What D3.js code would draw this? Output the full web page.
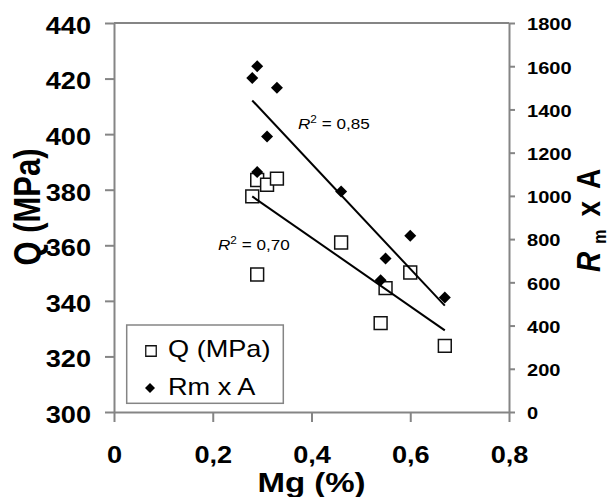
<!DOCTYPE html>
<html>
<head>
<meta charset="utf-8">
<script src="https://cdn.jsdelivr.net/npm/d3@7"></script>
<style>
  body { margin: 0; background: #fff; }
  svg { display: block; font-family: "Liberation Sans", Arial, sans-serif; }
</style>
</head>
<body>
<svg id="chart" width="609" height="497"></svg>
<script>
// values
const mg = [0.28, 0.29, 0.29, 0.31, 0.33, 0.46, 0.54, 0.55, 0.60, 0.67]
const qMPa = [377.6, 383.5, 349.5, 381.8, 384.0, 361.0, 332.0, 344.6, 350.2, 323.8]
const rmA = [1545, 1600, 1110, 1275, 1500, 1020, 610, 710, 815, 530]

const xTicks = [0, 0.2, 0.4, 0.6, 0.8]
const qTicks = [300, 320, 340, 360, 380, 400, 420, 440]
const rTicks = [0, 200, 400, 600, 800, 1000, 1200, 1400, 1600, 1800]
const r2Labels = ['0,85', '0,70']
const legendLabels = ['Q (MPa)', 'Rm x A']

// the original picture is stretched sideways, text gets the same stretch
const SX = 1.18
const axisColor = '#858585'

const svg = d3.select('#chart')

const x = d3.scaleLinear().domain([0, 0.8]).range([114, 509])
const yQ = d3.scaleLinear().domain([300, 440]).range([412, 23])
const yR = d3.scaleLinear().domain([0, 1800]).range([412, 23])

const comma = d => String(d).replace('.', ',')

/**
 * Least squares line through the points, returned as its two end points.
 */
function trend (xs, ys) {
  const mx = d3.mean(xs)
  const my = d3.mean(ys)
  const sxy = d3.sum(xs, (v, i) => (v - mx) * (ys[i] - my))
  const sxx = d3.sum(xs, v => (v - mx) * (v - mx))
  const slope = sxy / sxx
  return d3.extent(xs).map(v => [v, my + slope * (v - mx)])
}

function styleAxis (g, size) {
  g.attr('font-family', null).attr('font-size', null)
  g.select('.domain').attr('stroke', axisColor).attr('stroke-width', 2)
  g.selectAll('.tick line').attr('stroke', axisColor).attr('stroke-width', 2)
  g.selectAll('.tick text')
    .attr('fill', '#000')
    .attr('font-size', size)
    .attr('font-weight', 'bold')
}

// top border of the plot area
svg.append('line')
  .attr('x1', x(0)).attr('x2', x(0.8))
  .attr('y1', yQ(440)).attr('y2', yQ(440))
  .attr('stroke', axisColor).attr('stroke-width', 2)

const gx = svg.append('g')
  .attr('transform', 'translate(0,' + yQ(300) + ')')
  .call(d3.axisBottom(x).tickValues(xTicks).tickFormat(comma)
    .tickSize(10).tickSizeOuter(0).tickPadding(25))
styleAxis(gx, 23)
gx.selectAll('.tick text').attr('transform', 'scale(' + SX + ',1)')

const gl = svg.append('g')
  .attr('transform', 'translate(' + x(0) + ',0)')
  .call(d3.axisLeft(yQ).tickValues(qTicks).tickFormat(String)
    .tickSize(9).tickSizeOuter(0).tickPadding(10.5))
styleAxis(gl, 23)
gl.selectAll('.tick text').attr('dy', '0.45em').attr('transform', 'scale(' + SX + ',1)')

const gr = svg.append('g')
  .attr('transform', 'translate(' + x(0.8) + ',0)')
  .call(d3.axisRight(yR).tickValues(rTicks).tickFormat(String)
    .tickSize(6).tickSizeOuter(0).tickPadding(9.3))
styleAxis(gr, 17)
gr.selectAll('.tick text').attr('dy', '0.4em').attr('transform', 'scale(' + SX + ',1)')

// axis titles
svg.append('text')
  .attr('transform', 'translate(40,207) scale(' + SX + ',1) rotate(-90)')
  .attr('text-anchor', 'middle')
  .attr('font-size', 31).attr('font-weight', 'bold')
  .text('Q (MPa)')

svg.append('text')
  .attr('transform', 'translate(311.5,491.7) scale(' + SX + ',1)')
  .attr('text-anchor', 'middle')
  .attr('font-size', 28).attr('font-weight', 'bold')
  .text('Mg (%)')

const rt = svg.append('text')
  .attr('transform', 'translate(600,272) scale(' + SX + ',1) rotate(-90)')
  .attr('font-size', 28).attr('font-weight', 'bold')
rt.append('tspan').attr('font-style', 'italic').text('R')
rt.append('tspan').attr('dx', 8).attr('dy', 5).attr('font-size', 16).text('m')
rt.append('tspan').attr('dx', 13).attr('dy', -5).text('x')
rt.append('tspan').attr('dx', 12).text('A')

// series
svg.append('g').selectAll('path')
  .data(mg.map((m, i) => [m, qMPa[i]]))
  .enter()
  .append('path')
  .attr('d', d3.symbol(d3.symbolSquare, 165))
  .attr('transform', d => 'translate(' + x(d[0]) + ',' + yQ(d[1]) + ')')
  .attr('fill', '#fff')
  .attr('stroke', '#111')
  .attr('stroke-width', 1.5)

svg.append('g').selectAll('path')
  .data(mg.map((m, i) => [m, rmA[i]]))
  .enter()
  .append('path')
  .attr('d', d3.symbol(d3.symbolSquare, 72))
  .attr('transform', d => 'translate(' + x(d[0]) + ',' + yR(d[1]) + ') rotate(45)')
  .attr('fill', '#000')

// trend lines
const line = d3.line()
svg.append('path')
  .attr('d', line(trend(mg, qMPa).map(p => [x(p[0]), yQ(p[1])])))
  .attr('fill', 'none').attr('stroke', '#000').attr('stroke-width', 2)
svg.append('path')
  .attr('d', line(trend(mg, rmA).map(p => [x(p[0]), yR(p[1])])))
  .attr('fill', 'none').attr('stroke', '#000').attr('stroke-width', 2)

function r2Text (px, py, label) {
  const t = svg.append('text')
    .attr('transform', 'translate(' + px + ',' + py + ') scale(' + SX + ',1)')
    .attr('font-size', 14.5)
  t.append('tspan').attr('font-style', 'italic').text('R')
  t.append('tspan').attr('font-size', 10).attr('dy', -6).text('2')
  t.append('tspan').attr('dy', 6).text(' = ' + label)
}
r2Text(298, 129, r2Labels[0])
r2Text(218, 250, r2Labels[1])

// legend
const lg = svg.append('g')
lg.append('rect')
  .attr('x', 126.7).attr('y', 325)
  .attr('width', 156.6).attr('height', 78.3)
  .attr('fill', '#fff').attr('stroke', axisColor).attr('stroke-width', 1.5)
lg.append('path')
  .attr('d', d3.symbol(d3.symbolSquare, 110))
  .attr('transform', 'translate(151,351)')
  .attr('fill', '#fff').attr('stroke', '#111').attr('stroke-width', 1.3)
lg.append('path')
  .attr('d', d3.symbol(d3.symbolSquare, 50))
  .attr('transform', 'translate(150,388) rotate(45)')
  .attr('fill', '#000')
lg.selectAll('text')
  .data(legendLabels)
  .enter()
  .append('text')
  .attr('transform', (d, i) => 'translate(168,' + [356.7, 395][i] + ') scale(' + SX + ',1)')
  .attr('font-size', 23)
  .text(d => d)
</script>
</body>
</html>
